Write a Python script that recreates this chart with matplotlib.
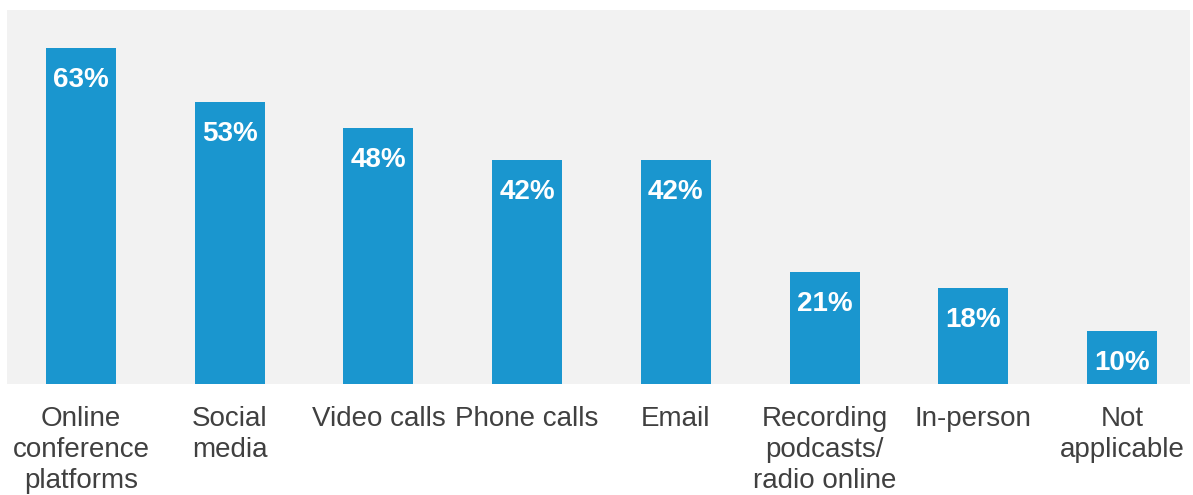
import matplotlib
matplotlib.use("Agg")
import matplotlib.pyplot as plt

categories = ["Online\nconference\nplatforms", "Social\nmedia", "Video calls", "Phone calls",
              "Email", "Recording\npodcasts/\nradio online", "In-person", "Not\napplicable"]
values = [63, 53, 48, 42, 42, 21, 18, 10]

plt.rcParams['font.family'] = ['Liberation Sans', 'DejaVu Sans']

W, H = 1193, 495
fig = plt.figure(figsize=(W / 100, H / 100), dpi=100)
ax = fig.add_axes([7 / W, 1 - 384 / H, (1190 - 7) / W, (384 - 10) / H])
ax.set_facecolor('#f2f2f2')

x = list(range(len(values)))
bars = ax.bar(x, values, width=0.47, color='#1a96cf', zorder=2)
for xi, v in zip(x, values):
    ax.annotate(f"{v}%", (xi, v), xytext=(0, -32), textcoords='offset pixels',
                ha='center', va='center', color='white', fontsize=20, fontweight='bold')

step = (1122 - 81) / 7
ax.set_xlim((7 - 81) / step, (1190 - 81) / step)
ax.set_ylim(0, 70.2)
ax.set_yticks([])
ax.set_xticks(x)
ax.set_xticklabels(categories, fontsize=20, color='#404040', linespacing=1.24, va='top')
ax.tick_params(axis='x', length=0, pad=16)
for s in ax.spines.values():
    s.set_visible(False)

fig.savefig("out.png", dpi=100, facecolor='white')
